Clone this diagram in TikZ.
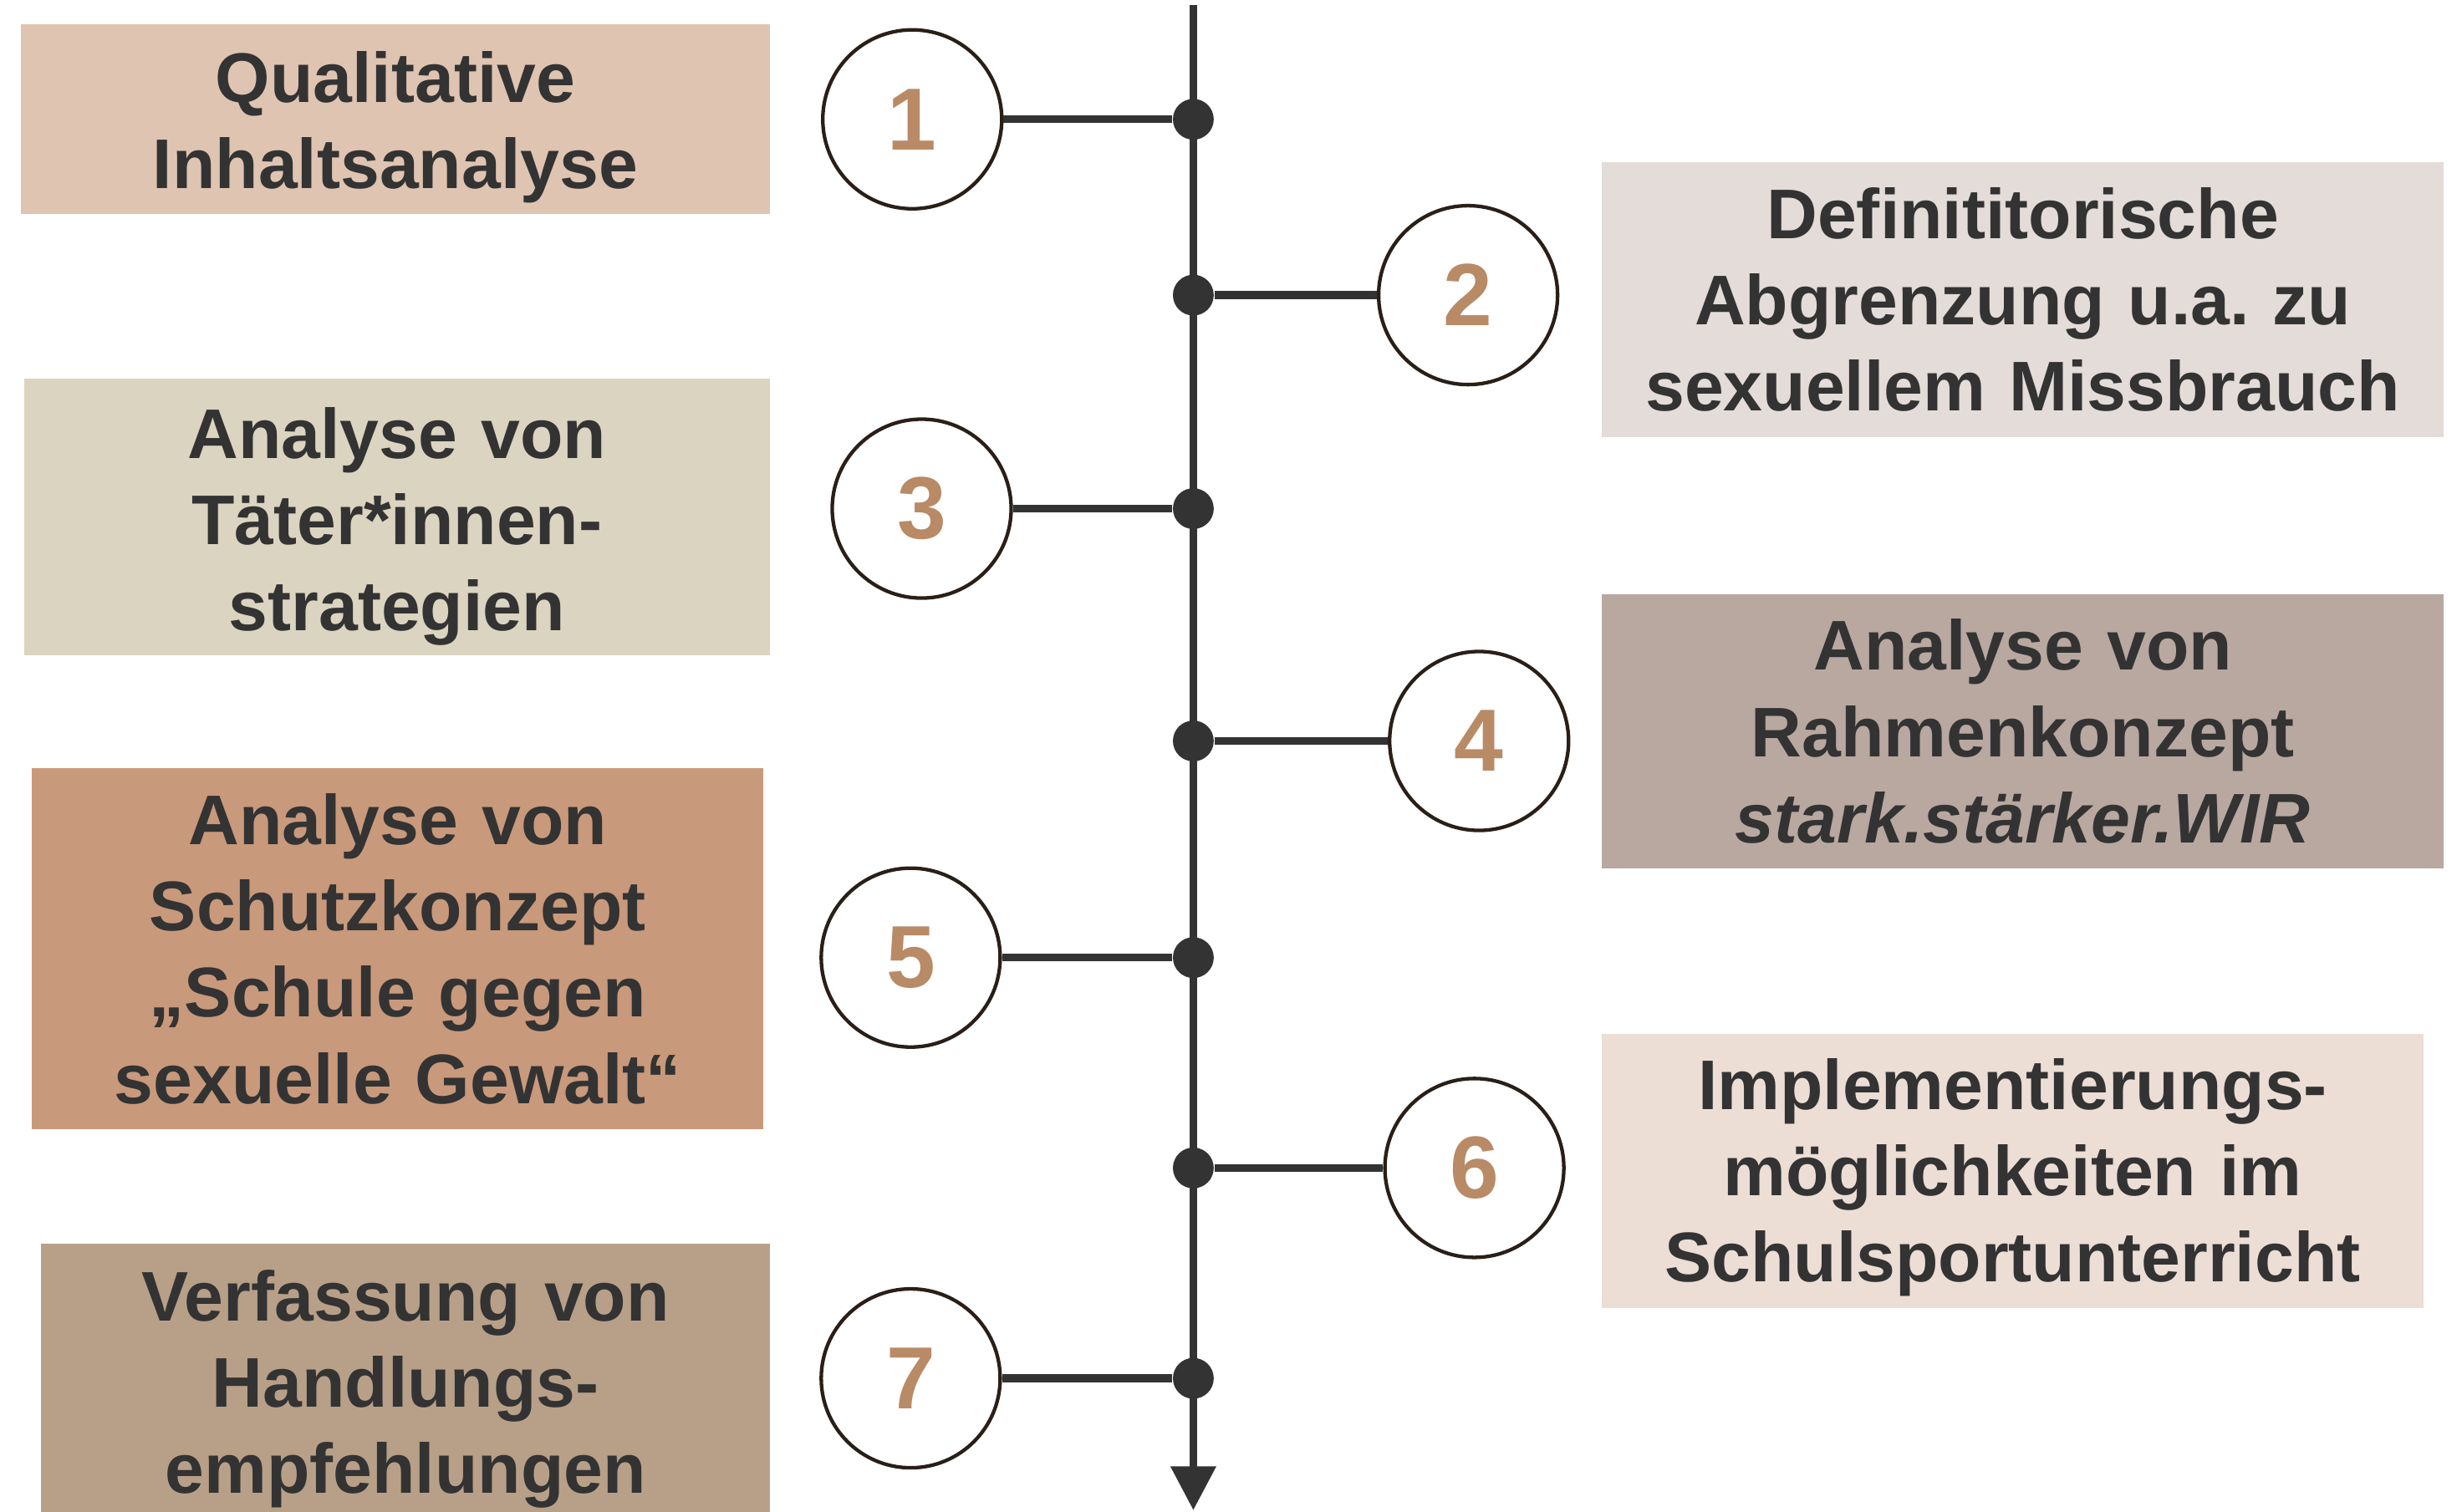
\documentclass[tikz,border=0pt]{standalone}
\usepackage{fontspec}
\setmainfont{Liberation Sans}
\usetikzlibrary{arrows.meta,positioning}

\definecolor{txt}{HTML}{333333}
\definecolor{numc}{HTML}{B98A66}
\definecolor{ring}{HTML}{2A1F18}
\definecolor{peach}{HTML}{DFC4B1}
\definecolor{sand}{HTML}{DBD4C0}
\definecolor{clay}{HTML}{C9997B}
\definecolor{taupe}{HTML}{B8A088}
\definecolor{mist}{HTML}{E3DCD8}
\definecolor{stone}{HTML}{B8A8A0}
\definecolor{blush}{HTML}{ECDED5}

\begin{document}
\begin{tikzpicture}[x=0.02cm, y=-0.02cm, >={Triangle[length=0.56cm,width=0.56cm]},
 box/.style={fill=#1, anchor=north west, inner sep=0pt, align=center, text=txt, font=\fontsize{25.5}{31.3}\selectfont\bfseries},
 drop/.style={execute at begin node={\rule{0pt}{#1}}},
 num/.style={circle, draw=ring, line width=1.3pt, fill=white, minimum size=2.28cm, inner sep=0pt, text=numc, font=\fontsize{32}{36}\selectfont\bfseries},
 dot/.style={circle, fill=txt, inner sep=0pt, minimum size=0.52cm},
 link/.style={draw=txt, line width=2.8pt}]
\useasboundingbox (0,0) rectangle (1568,963);

% text boxes, left column
\node[box=peach, drop=24.3pt, text width=9.54cm, minimum height=2.42cm] (b1) at (13,15) {Qualitative\\Inhaltsanalyse};
\node[box=sand, drop=25.4pt, text width=9.5cm, minimum height=3.52cm] (b3) at (15,241) {Analyse von\\Täter*innen-\\strategien};
\node[box=clay, text width=9.32cm, minimum height=4.6cm] (b5) at (20,489) {Analyse von\\Schutzkonzept\\„Schule gegen\\sexuelle Gewalt“};
\node[box=taupe, drop=25.4pt, text width=9.28cm, minimum height=3.46cm] (b7) at (26,792) {Verfassung von\\Handlungs-\\empfehlungen};

% text boxes, right column
\node[box=mist, text width=10.72cm, minimum height=3.5cm] (b2) at (1020,103) {Definititorische\\Abgrenzung u.a.\ zu\\sexuellem Missbrauch};
\node[box=stone, text width=10.72cm, minimum height=3.5cm] (b4) at (1020,378) {Analyse von\\Rahmenkonzept\\\textit{stark.stärker.WIR}};
\node[box=blush, drop=23.2pt, text width=10.46cm, minimum height=3.5cm] (b6) at (1020,658) {Implementierungs-\\möglichkeiten im\\Schulsportunterricht};

% time axis
\coordinate (top) at (760,3);
\coordinate (end) at (760,962);
\draw[link,->] (top) -- (end);

% steps on the axis
\node[dot] (d1) at (760,76) {};
\node[dot] (d2) at (760,188) {};
\node[dot] (d3) at (760,324) {};
\node[dot] (d4) at (760,472) {};
\node[dot] (d5) at (760,610) {};
\node[dot] (d6) at (760,744) {};
\node[dot] (d7) at (760,878) {};

\node[num] (n1) at (581,76) {1};
\node[num] (n2) at (935,188) {2};
\node[num] (n3) at (587,324) {3};
\node[num] (n4) at (942,472) {4};
\node[num] (n5) at (580,610) {5};
\node[num] (n6) at (939,744) {6};
\node[num] (n7) at (580,878) {7};

\draw[link] (n1) -- (d1);
\draw[link] (n2) -- (d2);
\draw[link] (n3) -- (d3);
\draw[link] (n4) -- (d4);
\draw[link] (n5) -- (d5);
\draw[link] (n6) -- (d6);
\draw[link] (n7) -- (d7);
\end{tikzpicture}
\end{document}
